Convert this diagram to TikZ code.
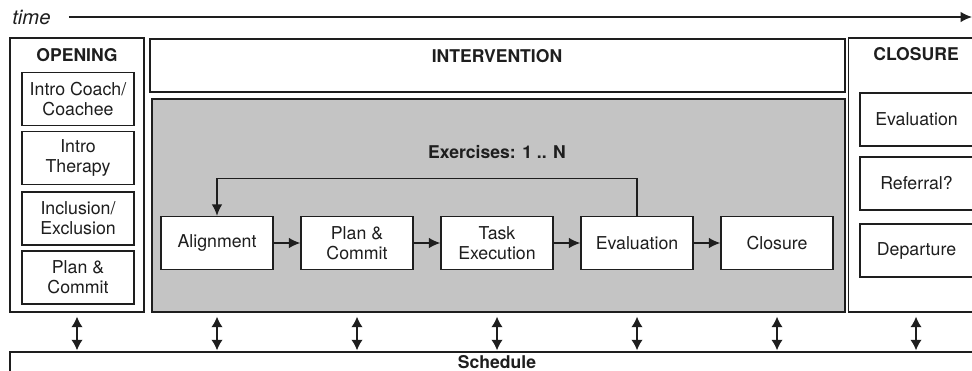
\documentclass[tikz,border=0pt]{standalone}
\usepackage{fontspec}
\setmainfont{TeX Gyre Heros}
\usetikzlibrary{arrows.meta,calc}
\definecolor{boxgray}{RGB}{196,196,196}
\definecolor{ink}{RGB}{30,30,30}
\begin{document}
\begin{tikzpicture}[x=0.02cm,y=-0.02cm,
  every node/.style={font=\fontsize{10.1}{11.4}\selectfont, text=ink},
  frame/.style={draw=ink, line width=0.8pt, fill=white, inner sep=0pt},
  sub/.style={draw=ink, line width=0.8pt, fill=white, minimum width=2.24cm, minimum height=1.06cm, align=center, inner sep=1pt},
  ttl/.style={font=\fontsize{10}{11.4}\selectfont\bfseries},
  flow/.style={draw=ink, line width=0.8pt, -{Latex[length=6.5pt,width=6pt]}},
  dbl/.style={draw=ink, line width=0.8pt, {Latex[length=6pt,width=6.5pt]}-{Latex[length=6pt,width=6.5pt]}}
]
\useasboundingbox (0,0) rectangle (972,370);
% time axis
\node[anchor=west, inner sep=0pt, font=\fontsize{11.5}{13}\selectfont\itshape] (time) at (12,17) {time};
\coordinate (tend) at (972,17);
\draw[flow] ($(time.east)+(18,0)$) -- (tend);
% frames
\node[frame, minimum width=2.68cm, minimum height=5.48cm] (open) at (77,175) {};
\node[frame, minimum width=13.9cm, minimum height=1.06cm] (interv) at (497.5,65.5) {};
\node[frame, fill=boxgray, minimum width=13.86cm, minimum height=4.26cm] (grey) at (498.5,205.5) {};
\node[frame, minimum width=2.7cm, minimum height=5.48cm] (close) at (916,175) {};
\node[frame, minimum width=19.48cm, minimum height=0.4cm] (sched) at (497,362) {};
% titles
\node[ttl] (topen) at (77,55) {OPENING};
\node[ttl] (tint) at (497,56) {INTERVENTION};
\node[ttl] (tclose) at (916,54) {CLOSURE};
\node[ttl] (tex) at (497,152) {Exercises: 1 .. N};
\node[ttl] (tsched) at (497,362) {Schedule};
% opening boxes
\node[sub] (o1) at (78,99) {Intro Coach/\\Coachee};
\node[sub] (o2) at (78,158) {Intro\\Therapy};
\node[sub] (o3) at (78,218.5) {Inclusion/\\Exclusion};
\node[sub] (o4) at (78,277.5) {Plan \&\\Commit};
% closure boxes
\node[sub, minimum width=2.26cm] (c1) at (916.5,119.5) {Evaluation};
\node[sub, minimum width=2.26cm] (c2) at (916.5,183.5) {Referral?};
\node[sub, minimum width=2.26cm] (c3) at (916.5,250.5) {Departure};
% exercise chain
\node[sub] (e1) at (217,243) {Alignment};
\node[sub] (e2) at (357,243) {Plan \&\\Commit};
\node[sub] (e3) at (497,243) {Task\\Execution};
\node[sub] (e4) at (637,243) {Evaluation};
\node[sub] (e5) at (777,243) {Closure};
\draw[flow] (e1) -- (e2);
\draw[flow] (e2) -- (e3);
\draw[flow] (e3) -- (e4);
\draw[flow] (e4) -- (e5);
\draw[flow] (e4.north) -- ++(0,-37.5) -| (e1.north);
% schedule links
\foreach \n in {open,e1,e2,e3,e4,e5,close}{
  \draw[dbl] ($(\n |- grey.south)+(0,4)$) -- ($(\n |- sched.north)+(0,-1)$);
}
\end{tikzpicture}
\end{document}
